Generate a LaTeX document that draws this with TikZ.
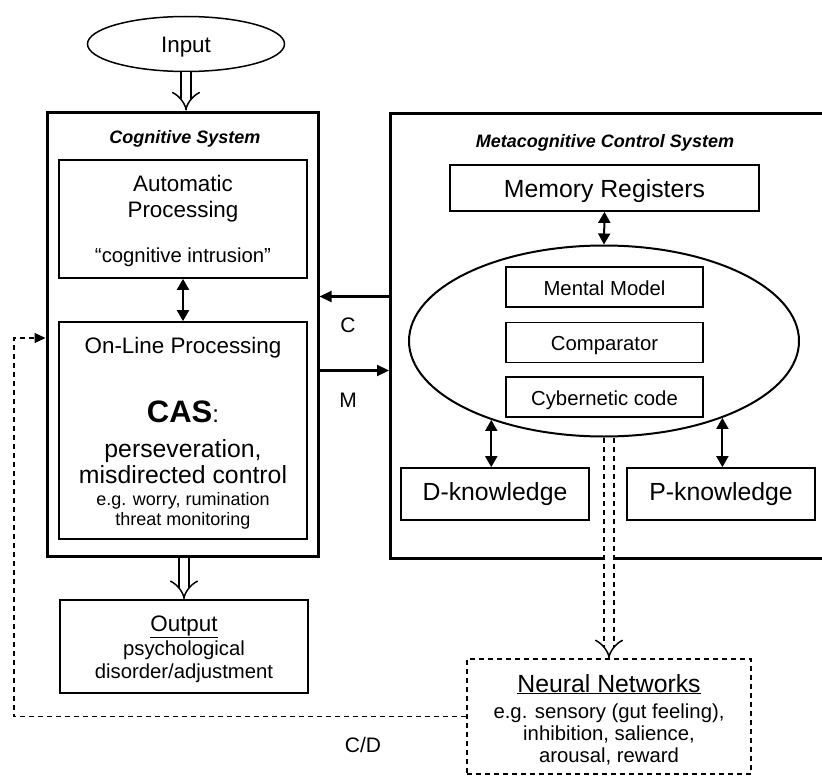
\documentclass[tikz,border=0pt]{standalone}
\usepackage{fontspec}
\setmainfont{Liberation Sans}
\usetikzlibrary{shapes.geometric,arrows.meta,calc}

\tikzset{
  sysbox/.style={draw,line width=3pt,inner sep=0pt},
  subbox/.style={draw,line width=1.7pt,inner sep=0pt},
  txt/.style={anchor=base,inner sep=0pt},
  t18/.style={txt,font=\fontsize{18}{21}\selectfont},
  t20/.style={txt,font=\fontsize{20.3}{24}\selectfont},
  t22/.style={txt,font=\fontsize{22.4}{26}\selectfont},
  t25/.style={txt,font=\fontsize{24.8}{28}\selectfont},
  dbl/.style={line width=2pt,{Triangle[length=11pt,width=12pt]}-{Triangle[length=11pt,width=12pt]}},
  arr/.style={line width=2.2pt,-{Triangle[length=12pt,width=11pt]}},
  hollow/.style={double,double distance=8.6pt,line width=1.5pt,-{Implies}},
  fb/.style={line width=1.4pt,dash pattern=on 5pt off 4pt,-{Triangle[length=11pt,width=10pt]}}
}

\begin{document}
\begin{tikzpicture}[x=1pt,y=-1pt]
  \useasboundingbox (0,0) rectangle (822,776);

  % input
  \node[draw,ellipse,line width=1.5pt,minimum width=197,minimum height=55,inner sep=0pt] (input) at (186,44) {};
  \node[t22] (inputtxt) at (186,53) {Input};

  % cognitive system
  \node[sysbox,minimum width=271,minimum height=444] (cogsys) at (182.5,334) {};
  \node[t18] (cogtitle) at (185,143) {\textbf{\textit{Cognitive System}}};
  \node[subbox,minimum width=248,minimum height=118] (auto) at (183,219) {};
  \node[t22] (autotxt) at (183,191) {Automatic};
  \node[t22] (proctxt) at (183,217) {Processing};
  \node[t20] (intrtxt) at (183,262) {``cognitive intrusion''};
  \node[subbox,minimum width=248,minimum height=217] (online) at (183,430.5) {};
  \node[t22] (onlinetxt) at (183,353) {On-Line Processing};
  \node[txt] (castxt) at (183,422) {\fontsize{31}{36}\selectfont\textbf{CAS}\fontsize{24}{28}\selectfont:};
  \node[t25] (perstxt) at (183,457) {perseveration,};
  \node[t25] (misdtxt) at (183,483) {misdirected control};
  \node[t18] (worrytxt) at (183,505) {e.g. worry, rumination};
  \node[t18] (threattxt) at (183,525) {threat monitoring};

  % output
  \node[subbox,minimum width=248,minimum height=93] (output) at (184,646.5) {};
  \node[t22] (outtitle) at (184,631) {\underline{Output}};
  \node[t20] (psychtxt) at (184,655) {psychological};
  \node[t20] (disotxt) at (184,678) {disorder/adjustment};

  % metacognitive control system
  \node[sysbox,minimum width=451,minimum height=445,anchor=north west] (mcsys) at (389,112) {};
  \node[t18] (mctitle) at (605,147) {\textbf{\textit{Metacognitive Control System}}};
  \node[subbox,minimum width=309,minimum height=46] (memreg) at (604.5,188) {};
  \node[t25] (memtxt) at (604.5,197) {Memory Registers};
  \node[draw,ellipse,line width=2pt,minimum width=390,minimum height=191,inner sep=0pt] (mce) at (604,341) {};
  \node[subbox,minimum width=197,minimum height=40] (mental) at (604.5,287) {};
  \node[t20] (mentaltxt) at (604.5,295) {Mental Model};
  \node[subbox,minimum width=197,minimum height=40] (compar) at (604.5,342.5) {};
  \node[t20] (compartxt) at (604.5,350) {Comparator};
  \node[subbox,minimum width=197,minimum height=40] (cyber) at (604.5,397) {};
  \node[t20] (cybertxt) at (604.5,405) {Cybernetic code};
  \node[subbox,minimum width=188,minimum height=52] (dknow) at (495,494) {};
  \node[t25] (dknowtxt) at (495,500) {D-knowledge};
  \node[subbox,minimum width=188,minimum height=52] (pknow) at (721,494) {};
  \node[t25] (pknowtxt) at (721,500) {P-knowledge};

  % neural networks
  \node[draw,line width=1.4pt,dash pattern=on 5pt off 4pt,minimum width=284,minimum height=115,inner sep=0pt] (neural) at (609,716.5) {};
  \node[t25] (neuraltxt) at (609,692) {\underline{Neural Networks}};
  \node[t20] (senstxt) at (609,718) {e.g. sensory (gut feeling),};
  \node[t20] (inhibtxt) at (609,740) {inhibition, salience,};
  \node[t20] (aroustxt) at (609,762) {arousal, reward};

  % connectors
  \draw[hollow] (input.south) -- (input.south |- cogsys.north);
  \draw[hollow] (output.north |- cogsys.south) -- (output.north);
  \draw[hollow,dash pattern=on 5pt off 4pt] (neural.north |- mce.south) -- (neural.north);
  \draw[dbl] (auto.south) -- (online.north);
  \draw[dbl] (memreg.south) -- (mce.north);
  \draw[dbl] (mce.215.9) -- (mce.215.9 |- dknow.north);
  \draw[dbl] (mce.-33.1) -- (mce.-33.1 |- pknow.north);

  \coordinate (cpt) at ([yshift=39.5pt]mcsys.west);
  \coordinate (mpt) at ([yshift=-36.5pt]cogsys.east);
  \draw[arr] (cpt) -- (cpt -| cogsys.east);
  \draw[arr] (mpt) -- (mpt -| mcsys.west);
  \node[txt,font=\fontsize{21}{25}\selectfont] (clabel) at (348,332) {C};
  \node[txt,font=\fontsize{21}{25}\selectfont] (mlabel) at (348,407) {M};

  \coordinate (loop) at (14,338);
  \draw[fb] (neural.west) -| (loop) -- (loop -| cogsys.west);
  \node[txt,font=\fontsize{21}{25}\selectfont] (cdlabel) at (363,752) {C/D};
\end{tikzpicture}
\end{document}
